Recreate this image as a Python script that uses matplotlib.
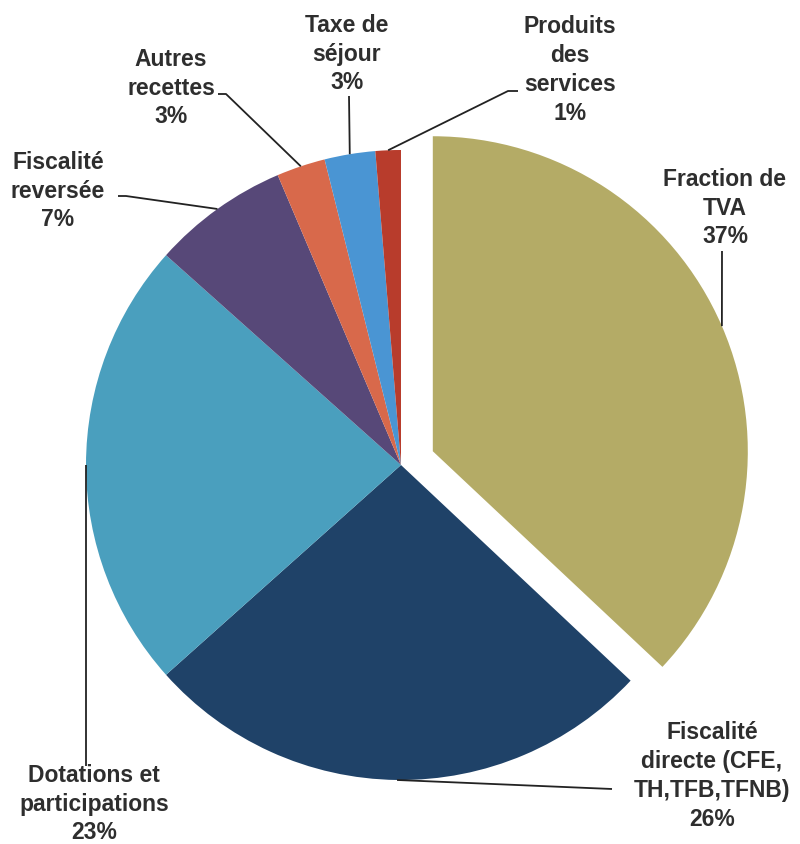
import numpy as np
import matplotlib
matplotlib.use("Agg")
import matplotlib.pyplot as plt

plt.rcParams['font.family'] = ['Liberation Sans', 'DejaVu Sans']

# Données (parts des recettes, en %)
labels = ["Fraction de\nTVA", "Fiscalité\ndirecte (CFE,\nTH,TFB,TFNB)", "Dotations et\nparticipations",
          "Fiscalité\nreversée", "Autres\nrecettes", "Taxe de\nséjour", "Produits\ndes\nservices"]
values = [37.0, 26.4, 23.2, 7.0, 2.5, 2.6, 1.3]
pct_labels = ["37%", "26%", "23%", "7%", "3%", "3%", "1%"]
colors = ["#B4AB66", "#1F4268", "#4A9FBE", "#574878", "#D8694B", "#4A95D3", "#B83C2C"]

W, H = 800, 845
CX, CY, R = 401, 466, 315


def px(x, y):
    # pixel -> coordonnées de l'axe (rayon = 1)
    return (x - CX) / R, (CY - y) / R


fig = plt.figure(figsize=(W / 100, H / 100), dpi=100)
ax = fig.add_axes([0, 0, 1, 1])
wedges, _ = ax.pie(values, colors=colors, startangle=90, counterclock=False,
                   explode=[0.11, 0, 0, 0, 0, 0, 0], radius=1, center=(0, 0),
                   wedgeprops=dict(linewidth=0))
ax.set_xlim(px(0, 0)[0], px(W, 0)[0])
ax.set_ylim(px(0, H)[1], px(0, 0)[1])
ax.axis('off')

# position du texte (centre, pixels) et coudes des lignes de rappel
text_pos = [(725, 208), (712, 776), (94, 804), (58, 191), (171, 88), (347, 54), (570, 70)]
elbows = [
    [(722, 252)],
    [(612, 790)],
    [(86, 767)],
    [(126, 197), (118, 197)],
    [(226, 95), (218, 95)],
    [(349, 97)],
    [(508, 92), (518, 92)],
]

for w, lab, pct, tp, elb in zip(wedges, labels, pct_labels, text_pos, elbows):
    th = np.radians((w.theta1 + w.theta2) / 2)
    x0 = w.center[0] + w.r * np.cos(th)
    y0 = w.center[1] + w.r * np.sin(th)
    pts = [(x0, y0)] + [px(*p) for p in elb]
    xs, ys = zip(*pts)
    ax.plot(xs, ys, color="#222222", lw=1.3, solid_capstyle='butt')
    ax.text(*px(*tp), lab + "\n" + pct, ha='center', va='center', fontsize=16.5,
            fontweight='bold', color="#2e2e2e", linespacing=1.33)

fig.savefig("out.png", dpi=100)
